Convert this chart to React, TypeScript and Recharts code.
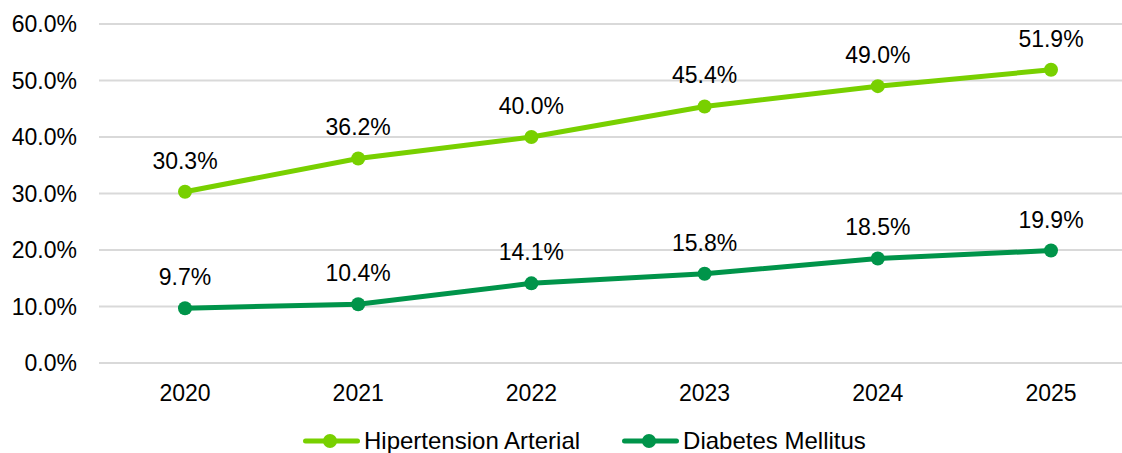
import React from 'react'
import { LineChart, Line, XAxis, YAxis, CartesianGrid, LabelList } from 'recharts'

const years = ['2020', '2021', '2022', '2023', '2024', '2025']
const hipertension = [30.3, 36.2, 40.0, 45.4, 49.0, 51.9]
const diabetes = [9.7, 10.4, 14.1, 15.8, 18.5, 19.9]
const yTicks = [0, 10, 20, 30, 40, 50, 60]

const LIGHT = '#78D000'
const DARK = '#00944A'
const FONT = 'Liberation Sans, Arial, sans-serif'
const FS = 23

const data = years.map((year, i) => ({
  year,
  hta: hipertension[i],
  dm: diabetes[i],
}))

const pct = (v: any) => `${Number(v).toFixed(1)}%`

function LegendItem({ color, label, gap }: { color: string; label: string; gap: number }) {
  return (
    <div style={{ display: 'flex', alignItems: 'center', marginRight: gap }}>
      <svg width={60} height={16} style={{ marginRight: 4 }}>
        <line x1={5.5} y1={8} x2={57.5} y2={8} stroke={color} strokeWidth={5} strokeLinecap="round" />
        <circle cx={30} cy={8} r={7} fill={color} />
      </svg>
      <span>{label}</span>
    </div>
  )
}

export default function App() {
  return (
    <div
      style={{
        position: 'fixed',
        top: 0,
        left: 0,
        width: 1122,
        height: 453,
        overflow: 'hidden',
        background: '#fff',
        fontFamily: FONT,
      }}
    >
      <LineChart
        width={1140}
        height={410}
        data={data}
        margin={{ top: 24, right: 3, bottom: 0, left: 0 }}
      >
        <CartesianGrid vertical={false} stroke="#D9D9D9" strokeWidth={2} />
        <XAxis
          dataKey="year"
          axisLine={false}
          tickLine={false}
          tickSize={0}
          tickMargin={22}
          height={47}
          padding={{ left: 86, right: 86 }}
          tick={{ fill: '#000', fontSize: FS, fontFamily: FONT }}
        />
        <YAxis
          width={99}
          domain={[0, 60]}
          ticks={yTicks}
          tickFormatter={pct}
          axisLine={false}
          tickLine={false}
          tickSize={0}
          tickMargin={22}
          tick={{ fill: '#000', fontSize: FS, fontFamily: FONT }}
        />
        <Line
          dataKey="hta"
          stroke={LIGHT}
          strokeWidth={5}
          dot={{ r: 7, fill: LIGHT, stroke: LIGHT, strokeWidth: 0 }}
          activeDot={false}
          isAnimationActive={false}
        >
          <LabelList
            dataKey="hta"
            position="top"
            offset={23}
            formatter={pct}
            style={{ fill: '#000', fontSize: FS, fontFamily: FONT }}
          />
        </Line>
        <Line
          dataKey="dm"
          stroke={DARK}
          strokeWidth={5}
          dot={{ r: 7, fill: DARK, stroke: DARK, strokeWidth: 0 }}
          activeDot={false}
          isAnimationActive={false}
        >
          <LabelList
            dataKey="dm"
            position="top"
            offset={23}
            formatter={pct}
            style={{ fill: '#000', fontSize: FS, fontFamily: FONT }}
          />
        </Line>
      </LineChart>
      <div
        style={{
          position: 'absolute',
          top: 429,
          left: 300,
          display: 'flex',
          fontSize: 24,
          color: '#000',
          lineHeight: '24px',
        }}
      >
        <LegendItem color={LIGHT} label="Hipertension Arterial" gap={39} />
        <LegendItem color={DARK} label="Diabetes Mellitus" gap={0} />
      </div>
    </div>
  )
}
